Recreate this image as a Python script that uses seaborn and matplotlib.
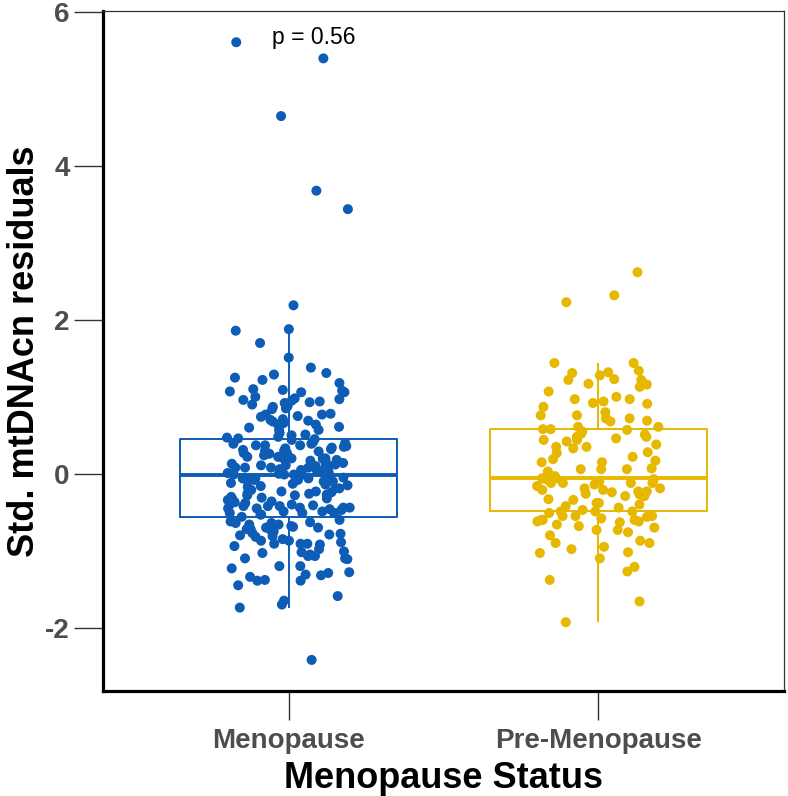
import numpy as np
import pandas as pd
from matplotlib import pyplot as plt
import seaborn as sns

# groups and colours
groups = ['Menopause', 'Pre-Menopause']
colors = ['#0D5CB6', '#E7B800']

# standardised mtDNAcn residuals
menopause = [
    5.61, 5.40, 4.65, 3.68, 3.44, 2.19,
    1.88, 1.86, 1.70, 1.51, 1.38, 1.31, 1.29, 1.25, 1.22, 1.18,
    1.10, 1.09, 1.08, 1.07, 1.06, 1.06, 1.00, 0.98, 0.97, 0.96,
    0.95, 0.94, 0.93, 0.92, 0.90, 0.88, 0.87, 0.85, 0.84,
    0.78, 0.77, 0.77, 0.75, 0.74, 0.71, 0.70, 0.69, 0.68, 0.66,
    0.64, 0.64, 0.61, 0.60, 0.57, 0.57,
    0.53, 0.51, 0.50, 0.48, 0.47, 0.46, 0.45, 0.44,
    0.41, 0.40, 0.39, 0.39, 0.37, 0.37, 0.37, 0.36, 0.35, 0.34,
    0.33, 0.32, 0.31, 0.30, 0.30, 0.29, 0.27,
    0.27, 0.26, 0.26, 0.24, 0.22, 0.22, 0.21, 0.20, 0.20, 0.20,
    0.20, 0.19, 0.18, 0.17, 0.15, 0.14, 0.13, 0.12, 0.11, 0.11, 0.09,
    0.10, 0.08, 0.08, 0.08, 0.08, 0.08, 0.06, 0.05, 0.04, 0.03,
    0.02, 0.01, 0.00, -0.01, -0.01, -0.01, -0.01, -0.02,
    -0.05, -0.06, -0.06, -0.06, -0.06, -0.08, -0.08, -0.09, -0.10,
    -0.10, -0.12, -0.13, -0.14, -0.15, -0.16, -0.17, -0.19, -0.19, -0.21,
    -0.23, -0.23, -0.24, -0.25, -0.26, -0.27, -0.28, -0.28, -0.30,
    -0.31, -0.32, -0.33, -0.34, -0.36, -0.37,
    -0.38, -0.40, -0.40, -0.41, -0.42, -0.42, -0.42, -0.44, -0.44,
    -0.44, -0.45, -0.45, -0.46, -0.47, -0.49, -0.49, -0.51, -0.51,
    -0.51, -0.51, -0.53, -0.53, -0.56,
    -0.60, -0.62, -0.63, -0.64, -0.64, -0.66, -0.66, -0.68, -0.69,
    -0.70, -0.70, -0.72, -0.72, -0.73, -0.75, -0.77, -0.78, -0.79,
    -0.80, -0.81, -0.82, -0.85, -0.87,
    -0.87, -0.89, -0.91, -0.91, -0.91, -0.92, -0.94, -0.98, -1.01,
    -1.02, -1.03, -1.05, -1.07, -1.07, -1.10, -1.11,
    -1.10, -1.20, -1.20, -1.23, -1.28, -1.29, -1.31, -1.32, -1.34,
    -1.38, -1.39, -1.39, -1.45,
    -1.59, -1.65, -1.70, -1.74, -2.42,
]
pre_menopause = [
    2.62, 2.32, 2.23, 1.44, 1.44, 1.34, 1.32, 1.31, 1.28, 1.23, 1.22,
    1.22, 1.17, 1.16, 1.13, 1.07, 1.00, 0.97, 0.97, 0.94, 0.92, 0.91,
    0.87, 0.80, 0.76, 0.76, 0.72, 0.72, 0.69, 0.68, 0.61, 0.61,
    0.58, 0.58,
    0.57, 0.55, 0.52, 0.51, 0.48, 0.48, 0.46, 0.44, 0.44, 0.42, 0.38,
    0.35, 0.35, 0.33, 0.28, 0.27,
    0.22, 0.19, 0.17, 0.15, 0.15, 0.07, 0.06, 0.06, 0.06, 0.03,
    -0.03, -0.03, -0.06, -0.06, -0.06, -0.07, -0.08, -0.10, -0.12,
    -0.12, -0.12, -0.12, -0.14, -0.16, -0.19, -0.21,
    -0.19, -0.21, -0.23, -0.23, -0.24, -0.26, -0.27, -0.29, -0.29,
    -0.29, -0.33, -0.34,
    -0.38, -0.38, -0.40, -0.42, -0.44, -0.47, -0.49, -0.49, -0.49, -0.51,
    -0.55, -0.55, -0.55, -0.56, -0.58, -0.60, -0.60, -0.60, -0.62,
    -0.62, -0.63, -0.66, -0.68, -0.70, -0.73, -0.73,
    -0.76, -0.80, -0.87, -0.90, -0.90, -0.95, -0.98, -1.02, -1.03,
    -1.10, -1.21, -1.27, -1.38, -1.66, -1.93,
]
p_label = 'p = 0.56'

df = pd.DataFrame({
    'status': [groups[0]] * len(menopause) + [groups[1]] * len(pre_menopause),
    'value': menopause + pre_menopause,
})

sns.set_style('white')
plt.rcParams['font.family'] = ['Liberation Sans', 'DejaVu Sans']
plt.rcParams['axes.unicode_minus'] = False

fig = plt.figure(figsize=(7.88, 7.96), dpi=100)
ax = fig.add_axes([0.1307, 0.1323, 0.8642, 0.8533])

sns.boxplot(data=df, x='status', y='value', hue='status', order=groups,
            hue_order=groups, palette=colors, fill=False, width=0.7,
            showfliers=False, showcaps=False, linewidth=1.4,
            medianprops={'linewidth': 2.8}, legend=False, ax=ax)

np.random.seed(7)
sns.stripplot(data=df, x='status', y='value', hue='status', order=groups,
              hue_order=groups, palette=colors, jitter=0.2, size=7.2,
              linewidth=0, alpha=1, zorder=3, legend=False, ax=ax)

ax.text(-0.055, 5.59, p_label, ha='left', va='baseline', fontsize=16.5,
        color='black')

ax.set_xlim(-0.6, 1.6)
ax.set_ylim(-2.82, 6.01)
ax.set_yticks([-2, 0, 2, 4, 6])

for side in ['left', 'bottom']:
    ax.spines[side].set_linewidth(2.3)
    ax.spines[side].set_color('black')
for side in ['top', 'right']:
    ax.spines[side].set_linewidth(0.9)
    ax.spines[side].set_color('#333333')

ax.tick_params(axis='both', direction='out', length=21, width=1,
               color='#333333', labelsize=20, labelcolor='#4D4D4D',
               left=True, bottom=True)
ax.tick_params(axis='x', pad=6)
ax.tick_params(axis='y', pad=3)
for lab in ax.get_xticklabels() + ax.get_yticklabels():
    lab.set_fontweight('bold')

ax.set_xlabel('Menopause Status', fontsize=26, fontweight='bold',
              labelpad=5, color='black')
ax.set_ylabel('Std. mtDNAcn residuals', fontsize=26, fontweight='bold',
              labelpad=2, color='black')

fig.savefig('out.png', dpi=100)
